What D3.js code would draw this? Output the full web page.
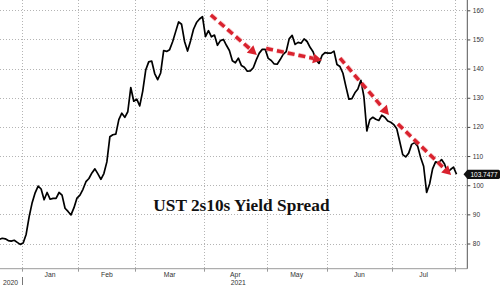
<!DOCTYPE html>
<html><head><meta charset="utf-8">
<script src="https://cdn.jsdelivr.net/npm/d3@7"></script>
<style>body{margin:0;background:#fff}svg{display:block}</style>
</head><body><svg id="c" width="500" height="285"></svg>
<script>
// UST 2s10s spread (bp), one value per trading day, from late Dec 2020 to late Jul 2021
const spread = [
 81.4,81.8,81.6,81.0,80.8,81.1,80.4,79.7,80.2,83.2,
 89.2,94.0,97.4,99.7,98.7,95.0,97.5,95.2,95.5,95.5,
 97.5,96.6,92.1,91.0,89.8,92.3,95.6,96.6,98.6,101.2,
 102.3,104.2,105.6,103.9,102.0,104.0,108.0,116.6,117.3,117.5,
 122.5,124.7,123.3,125.2,133.5,128.8,129.5,127.2,132.3,139.5,
 142.3,142.6,138.3,136.2,138.5,146.2,145.9,146.5,149.2,152.6,
 156.0,155.2,149.3,146.0,149.5,153.5,155.8,157.0,157.8,151.0,
 153.0,150.9,151.5,148.0,149.6,150.0,148.0,146.2,142.7,142.0,
 143.6,141.1,140.5,139.1,139.2,140.3,143.0,145.3,146.6,146.6,
 143.5,142.8,141.6,141.5,143.1,144.9,145.8,150.2,151.4,148.3,
 149.0,148.7,150.2,149.3,147.3,145.8,143.0,141.8,144.5,145.5,
 145.3,145.3,146.0,141.4,140.7,138.4,133.8,129.5,129.7,131.7,
 133.0,136.0,130.5,118.6,122.5,123.3,122.6,122.2,124.0,123.3,
 122.0,121.6,120.8,119.4,115.0,110.5,109.7,111.0,114.0,114.6,
 113.4,109.5,106.5,97.5,100.4,105.6,108.0,107.7,108.8,107.3,
 104.3,105.4,106.2,103.7477
];
const monthLabels = ["Jan","Feb","Mar","Apr","May","Jun","Jul"];
const monthBounds = [7.5,26.5,45.5,68.5,89.5,109.5,131.5,152.5]; // trading-day index of month starts
const yearLabels = ["2020","2021"];
const yearBounds = [[0,7.5],[7.5,152.5]];
const yTicks = [80,90,100,110,120,130,140,150,160];
const lastValueLabel = "103.7477";
const titleText = "UST 2s10s Yield Spread";
// hand-drawn trend arrows, in [index, value] units
const arrows = [
 [[70.8,158.4],[86.2,144.7]],
 [[89.3,146.9],[108.0,142.9]],
 [[114.0,143.6],[130.4,124.1]],
 [[133.4,121.0],[151.2,103.5]]
];

const svg = d3.select("#c");
const W = 500, H = 285;
const axisX = 467.3, plotBottom = 268.7;
const x = d3.scaleLinear().domain([0,153]).range([-0.71,456.5]);
const y = d3.scaleLinear().domain([80,160]).range([243.5,10.3]);

const defs = svg.append("defs");
defs.append("filter").attr("id","glow").attr("x","-20%").attr("y","-20%").attr("width","140%").attr("height","140%")
  .append("feGaussianBlur").attr("stdDeviation",0.6);

// grid
const grid = svg.append("g").attr("stroke","#b4b4b4").attr("stroke-width",1).attr("stroke-dasharray","1,2");
grid.selectAll("line.h").data(yTicks).join("line")
  .attr("x1",0).attr("x2",axisX).attr("y1",d=>Math.round(y(d))+0.5).attr("y2",d=>Math.round(y(d))+0.5);
grid.selectAll("line.v").data(monthBounds).join("line")
  .attr("x1",d=>Math.round(x(d))+0.5).attr("x2",d=>Math.round(x(d))+0.5).attr("y1",0).attr("y2",plotBottom);

// bottom axis line
svg.append("line").attr("x1",0).attr("x2",axisX).attr("y1",plotBottom).attr("y2",plotBottom)
  .attr("stroke","#9a9a9a").attr("stroke-width",1);
svg.selectAll("line.mt").data(monthBounds).join("line")
  .attr("x1",d=>Math.round(x(d))+0.5).attr("x2",d=>Math.round(x(d))+0.5)
  .attr("y1",plotBottom).attr("y2",plotBottom+3).attr("stroke","#9a9a9a");
// year separator
svg.append("line").attr("x1",Math.round(x(monthBounds[0]))+0.5).attr("x2",Math.round(x(monthBounds[0]))+0.5)
  .attr("y1",277).attr("y2",285).attr("stroke","#777");

// month labels
svg.selectAll("text.m").data(monthLabels).join("text")
  .attr("x",(d,i)=>x((monthBounds[i]+monthBounds[i+1])/2)).attr("y",277)
  .attr("text-anchor","middle").attr("font-family","Liberation Sans, Arial, sans-serif")
  .attr("font-size",6.8).attr("fill","#333").text(d=>d);
svg.selectAll("text.yr").data(yearLabels).join("text")
  .attr("x",(d,i)=>x((yearBounds[i][0]+yearBounds[i][1])/2)).attr("y",285)
  .attr("text-anchor","middle").attr("font-family","Liberation Sans, Arial, sans-serif")
  .attr("font-size",6.8).attr("fill","#333").text(d=>d);

// right axis
const yAxis = d3.axisRight(y).tickValues(yTicks).tickSize(3).tickPadding(2.5);
const ga = svg.append("g").attr("transform",`translate(${axisX},0)`).call(yAxis);
ga.select(".domain").remove();
ga.selectAll("line").attr("stroke","#444");
ga.selectAll("text").attr("font-family","Liberation Sans, Arial, sans-serif").attr("font-size",6.5).attr("fill","#333");
svg.append("line").attr("x1",axisX).attr("x2",axisX).attr("y1",0).attr("y2",plotBottom).attr("stroke","#555");

// title
svg.append("text").attr("x",153.3).attr("y",210.5)
  .attr("font-family","Liberation Serif, 'Times New Roman', serif").attr("font-weight","bold")
  .attr("font-size",17.3).attr("fill","#111").text(titleText);

// series line
const line = d3.line().x((d,i)=>x(i)).y(d=>y(d));
svg.append("path").datum(spread).attr("d",line).attr("fill","none")
  .attr("stroke","#000").attr("stroke-width",1.7).attr("stroke-linejoin","round");

// arrows
const ag = svg.append("g");
arrows.forEach(a=>{
  const x1=x(a[0][0]), y1=y(a[0][1]), x2=x(a[1][0]), y2=y(a[1][1]);
  const ang=Math.atan2(y2-y1,x2-x1), L=9, Wd=5;
  const bx=x2-L*Math.cos(ang), by=y2-L*Math.sin(ang);
  const g = ag.append("g").attr("filter","url(#glow)");
  g.append("line").attr("x1",x1).attr("y1",y1).attr("x2",bx).attr("y2",by)
    .attr("stroke","#f08a90").attr("stroke-width",5).attr("stroke-dasharray","7,4").attr("opacity",0.45);
  g.append("line").attr("x1",x1).attr("y1",y1).attr("x2",bx).attr("y2",by)
    .attr("stroke","#d9232e").attr("stroke-width",3.4).attr("stroke-dasharray","7,4");
  const px=-Math.sin(ang), py=Math.cos(ang);
  g.append("path").attr("d",`M${x2},${y2}L${bx+px*Wd},${by+py*Wd}L${bx-px*Wd},${by-py*Wd}Z`)
    .attr("fill","#d9232e");
});

// last value label
const lv = spread[spread.length-1], ly = y(lv);
svg.append("path").attr("d",`M463.5,${ly}L467.5,${ly-4.6}H498.5Q500,${ly-4.6} 500,${ly-3}V${ly+3}Q500,${ly+4.6} 498.5,${ly+4.6}H467.5Z`)
  .attr("fill","#111");
svg.append("text").attr("x",484).attr("y",ly+2.3).attr("text-anchor","middle")
  .attr("font-family","Liberation Sans, Arial, sans-serif").attr("font-size",6.5).attr("fill","#fff").text(lastValueLabel);
</script></body></html>
